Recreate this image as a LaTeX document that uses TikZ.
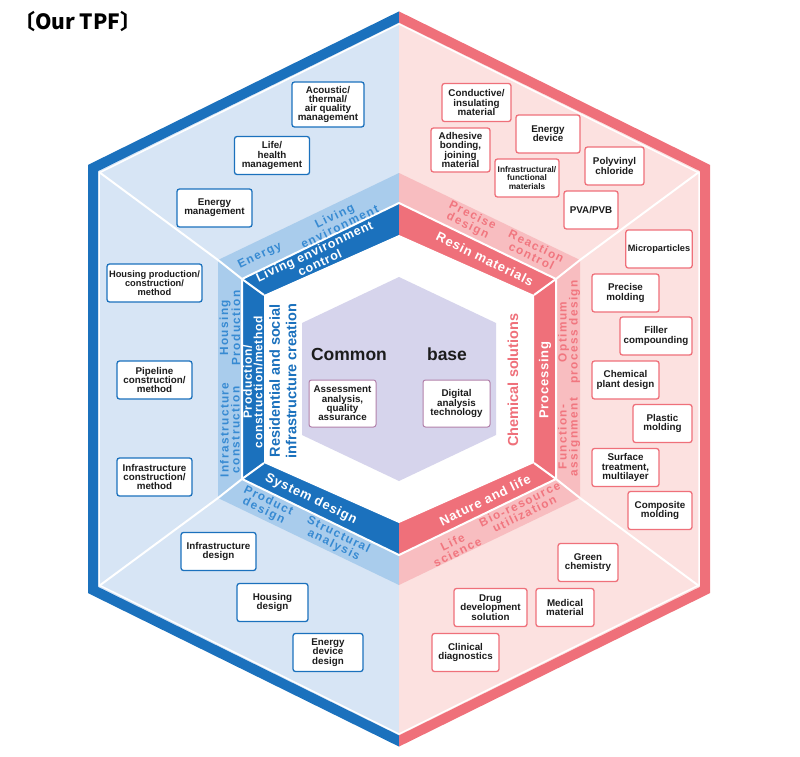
\documentclass[tikz,border=0pt]{standalone}
\usepackage{fontspec}
\setmainfont{Liberation Sans}
\newfontfamily\cjkfont{Noto Sans CJK JP}
\newfontfamily\darkbandfont[LetterSpace=6]{Liberation Sans}
\newfontfamily\lightbandfont[LetterSpace=12]{Liberation Sans}
\usetikzlibrary{positioning}

\definecolor{livedark}{RGB}{27,113,189}
\definecolor{livemid}{RGB}{169,204,236}
\definecolor{livelight}{RGB}{215,229,245}
\definecolor{livetext}{RGB}{55,138,210}
\definecolor{chemdark}{RGB}{239,112,122}
\definecolor{chemmid}{RGB}{248,189,192}
\definecolor{chemlight}{RGB}{252,225,224}
\definecolor{chemtext}{RGB}{241,118,127}
\definecolor{basefill}{RGB}{214,212,236}
\definecolor{baseedge}{RGB}{178,128,170}
\definecolor{inktext}{RGB}{28,28,28}

% hexagon round the centre (399,379): half width #1, half side #2, top/bottom tip #3
\newcommand{\hexring}[3]{(399-#1,379-#2) -- (399,379-#3) -- (399+#1,379-#2) -- (399+#1,379+#2) -- (399,379+#3) -- (399-#1,379+#2) -- cycle}

\tikzset{
  tpfbox/.style={
    draw,
    fill=white,
    rounded corners=2.5pt,
    line width=1.3pt,
    align=center,
    text=inktext,
    font=\bfseries\fontsize{9.8}{9.3}\selectfont,
    inner xsep=2pt,
    inner ysep=3pt,
    minimum height=38pt,
    minimum width=60pt
  },
  livebox/.style={tpfbox, draw=livedark},
  chembox/.style={tpfbox, draw=chemdark},
  basebox/.style={tpfbox, draw=baseedge, line width=1pt, minimum width=67pt, minimum height=47pt},
  darkband/.style={text=white, align=center, inner sep=0pt, font=\darkbandfont\bfseries\fontsize{13}{12}\selectfont},
  liveband/.style={text=livetext, align=center, inner sep=0pt, font=\lightbandfont\bfseries\fontsize{11.8}{11}\selectfont},
  chemband/.style={liveband, text=chemtext},
  gaplabel/.style={align=center, inner sep=0pt, font=\bfseries\fontsize{14.5}{16.5}\selectfont},
  spoke/.style={draw=white, line width=2pt},
  rim/.style={line width=10pt}
}

\begin{document}
\begin{tikzpicture}[x=1pt, y=-1pt]
\useasboundingbox (0,0) rectangle (800,757);

% Left half: living and infrastructure
\begin{scope}
  \clip (0,0) rectangle (399,757);
  \fill[livelight] \hexring{306}{211}{362};
  \fill[livemid] \hexring{181}{119}{206};
  \fill[livedark] \hexring{157}{100}{176};
\end{scope}

% Right half: chemical
\begin{scope}
  \clip (399,0) rectangle (800,757);
  \fill[chemlight] \hexring{306}{211}{362};
  \fill[chemmid] \hexring{181}{119}{206};
  \fill[chemdark] \hexring{157}{100}{176};
\end{scope}

% Common base in the middle
\fill[white] \hexring{135}{84}{144};
\fill[basefill] \hexring{97}{56}{102};

% White dividers
\draw[spoke] \hexring{157}{100}{176};
\draw[white, line width=1.5pt] \hexring{300}{206}{355};
\draw[spoke] (99,172) -- (218,260) -- (242,279) -- (264,295);
\draw[spoke] (99,586) -- (218,498) -- (242,479) -- (264,463);
\draw[spoke] (699,172) -- (580,260) -- (556,279) -- (534,295);
\draw[spoke] (699,586) -- (580,498) -- (556,479) -- (534,463);

% Outer rim
\begin{scope}
  \clip (0,0) rectangle (399,757);
  \draw[rim, livedark] \hexring{306}{211}{362};
\end{scope}
\begin{scope}
  \clip (399,0) rectangle (800,757);
  \draw[rim, chemdark] \hexring{306}{211}{362};
\end{scope}

\node[anchor=west, font=\cjkfont\bfseries\fontsize{21}{21}\selectfont, inner sep=0pt] (title) at (14,22) {〔Our TPF〕};

% Dark band
\node[darkband, rotate=25, font=\darkbandfont\bfseries\fontsize{12.5}{11.5}\selectfont] (livingctl) at (317,257) {Living environment\\control};
\node[darkband, rotate=90, font=\darkbandfont\bfseries\fontsize{12}{10.5}\selectfont] (prodmethod) at (253,382) {Production/\\construction/method};
\node[darkband, rotate=-26] (sysdesign) at (311,499) {System design};
\node[darkband, rotate=-26] (resin) at (485,259) {Resin materials};
\node[darkband, rotate=90] (processing) at (545,380) {Processing};
\node[darkband, rotate=26] (naturelife) at (485,500) {Nature and life};

% Light band
\node[liveband, rotate=26] (energy) at (260,256) {Energy};
\node[liveband, rotate=26] (livingenv) at (337,221) {Living\\environment};
\node[liveband, rotate=90] (housingprod) at (230,328) {Housing\\Production};
\node[liveband, rotate=90] (infracons) at (230,430) {Infrastructure\\construction};
\node[liveband, rotate=-26] (productdes) at (266,506) {Product\\design};
\node[liveband, rotate=-26] (structural) at (336,540) {Structural\\analysis};
\node[chemband, rotate=-26] (precise) at (470,221) {Precise\\design};
\node[chemband, rotate=-26] (reaction) at (534,251) {Reaction\\control};
\node[chemband, rotate=90] (optimum) at (569,332) {Optimum\\process design};
\node[chemband, rotate=90] (function) at (569,437) {Function-\\assignment};
\node[chemband, rotate=26] (bioresource) at (522,509) {Bio-resource\\utilization};
\node[chemband, rotate=26] (lifesci) at (455,547) {Life\\science};

% Gap labels
\node[gaplabel, rotate=90, text=livedark] (residential) at (283,381) {Residential and social\\infrastructure creation};
\node[gaplabel, rotate=90, text=chemdark] (chemsol) at (513,380) {Chemical solutions};

% Common base
\node[font=\bfseries\fontsize{17.5}{17.5}\selectfont, text=inktext] (common) at (349,354) {Common};
\node[font=\bfseries\fontsize{17.5}{17.5}\selectfont, text=inktext] (base) at (447,354) {base};
\node[basebox] (assessment) at (342.5,403.5) {Assessment\\analysis,\\quality\\assurance};
\node[basebox] (digital) at (456.5,403.5) {Digital\\analysis\\technology};

% Living and infrastructure boxes
\node[livebox, minimum width=72pt, minimum height=45pt] (acoustic) at (328,104.5) {Acoustic/\\thermal/\\air quality\\management};
\node[livebox, minimum width=75pt] (lifehealth) at (272,155.5) {Life/\\health\\management};
\node[livebox, minimum width=75pt] (energymgmt) at (214.5,208) {Energy\\management};
\node[livebox, minimum width=95pt, font=\bfseries\fontsize{9.3}{9.3}\selectfont] (housingcm) at (154.5,283) {Housing production/\\construction/\\method};
\node[livebox, minimum width=75pt] (pipeline) at (154.5,380) {Pipeline\\construction/\\method};
\node[livebox, minimum width=75pt] (infracm) at (154.5,477) {Infrastructure\\construction/\\method};
\node[livebox, minimum width=75pt] (infradesign) at (218.5,551.5) {Infrastructure\\design};
\node[livebox, minimum width=71pt] (housingdesign) at (272.5,602.5) {Housing\\design};
\node[livebox, minimum width=70pt] (energydesign) at (328,652.5) {Energy\\device\\design};

% Chemical boxes
\node[chembox, minimum width=69pt] (conductive) at (476.5,102.5) {Conductive/\\insulating\\material};
\node[chembox, minimum width=59pt, minimum height=44pt] (adhesive) at (460.5,150) {Adhesive\\bonding,\\joining\\material};
\node[chembox, minimum width=64pt] (energydevice) at (548,134) {Energy\\device};
\node[chembox, minimum width=64pt, font=\bfseries\fontsize{8.3}{8.6}\selectfont] (infrafunc) at (527,178) {Infrastructural/\\functional\\materials};
\node[chembox, minimum width=59pt] (pvc) at (614.5,166) {Polyvinyl\\chloride};
\node[chembox, minimum width=54pt] (pva) at (591,210) {PVA/PVB};
\node[chembox, minimum width=66pt, font=\bfseries\fontsize{9.2}{9.3}\selectfont] (microparticles) at (659,249) {Microparticles};
\node[chembox, minimum width=67pt] (precisemold) at (625.5,293) {Precise\\molding};
\node[chembox, minimum width=72pt] (filler) at (656,336) {Filler\\compounding};
\node[chembox, minimum width=67pt] (plant) at (625.5,380) {Chemical\\plant design};
\node[chembox, minimum width=59pt] (plastic) at (662.5,423.5) {Plastic\\molding};
\node[chembox, minimum width=67pt] (surface) at (625.5,467.5) {Surface\\treatment,\\multilayer};
\node[chembox, minimum width=64pt] (composite) at (660,510.5) {Composite\\molding};
\node[chembox, minimum width=60pt] (green) at (588,562.5) {Green\\chemistry};
\node[chembox, minimum width=73pt] (drug) at (490.5,607.5) {Drug\\development\\solution};
\node[chembox, minimum width=58pt] (medical) at (565,607.5) {Medical\\material};
\node[chembox, minimum width=67pt] (clinical) at (465.5,652.5) {Clinical\\diagnostics};

\end{tikzpicture}
\end{document}
